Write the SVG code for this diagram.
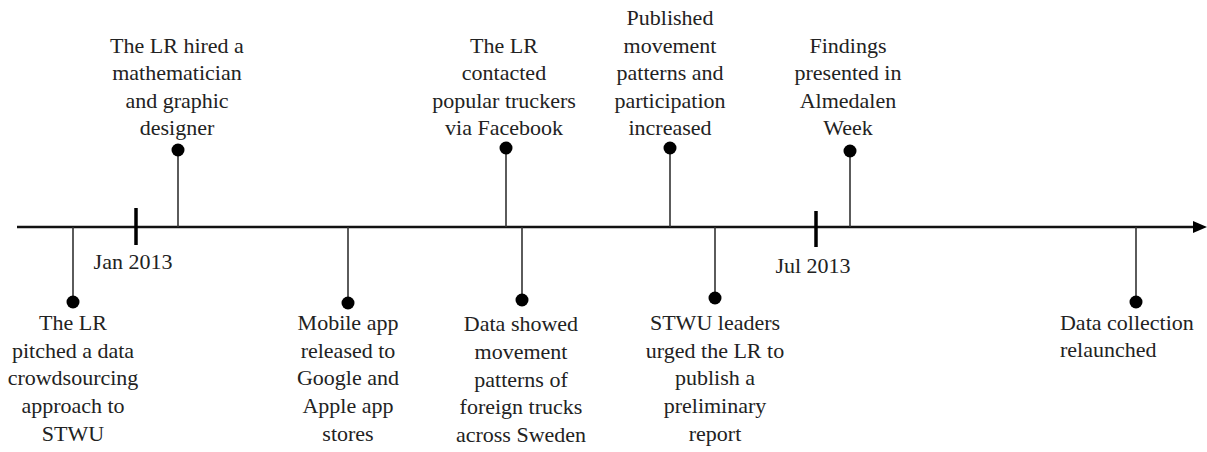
<svg xmlns="http://www.w3.org/2000/svg" width="1207" height="452" viewBox="0 0 1207 452">
<rect width="1207" height="452" fill="#fff"/>
<g id="axis">
<line x1="17" y1="227" x2="1195" y2="227" stroke="#111" stroke-width="2.5"/>
<polygon points="1193,221 1207,227 1193,233" fill="#000"/>
<line x1="136" y1="208" x2="136" y2="245" stroke="#000" stroke-width="3.5"/>
<line x1="816" y1="211" x2="816" y2="247" stroke="#000" stroke-width="3.5"/>
<g transform="scale(0.916667)" font-family="Liberation Serif" font-size="24" fill="#222" text-anchor="middle">
<text font-family="Liberation Serif" font-size="24" x="145.09" y="293.45">Jan 2013</text>
<text font-family="Liberation Serif" font-size="24" x="886.91" y="297.82">Jul 2013</text>
</g>
</g>
<g id="connectors" stroke="#333" stroke-width="1.6" fill="none">
<line x1="73" y1="227" x2="73" y2="302"/>
<line x1="178" y1="227" x2="178" y2="150"/>
<line x1="348" y1="227" x2="348" y2="303"/>
<line x1="506" y1="227" x2="506" y2="148"/>
<line x1="522" y1="227" x2="522" y2="300"/>
<line x1="670" y1="227" x2="670" y2="148"/>
<line x1="715" y1="227" x2="715" y2="298"/>
<line x1="850" y1="227" x2="850" y2="151"/>
<line x1="1136" y1="227" x2="1136" y2="302"/>
</g>
<g id="e1"><circle fill="#000" cx="73" cy="302" r="6.5"/>
<g transform="scale(0.916667)" fill="#222" text-anchor="middle">
<text font-family="Liberation Serif" font-size="24" x="79.64" y="360">The LR</text>
<text font-family="Liberation Serif" font-size="24" x="79.64" y="390.55">pitched a data</text>
<text font-family="Liberation Serif" font-size="24" x="79.64" y="420">crowdsourcing</text>
<text font-family="Liberation Serif" font-size="24" x="79.64" y="450.55">approach to</text>
<text font-family="Liberation Serif" font-size="24" x="79.64" y="481.09">STWU</text></g></g>
<g id="e2"><circle fill="#000" cx="178" cy="150" r="6.5"/>
<g transform="scale(0.916667)" fill="#222" text-anchor="middle">
<text font-family="Liberation Serif" font-size="24" x="193.09" y="57.82">The LR hired a</text>
<text font-family="Liberation Serif" font-size="24" x="193.09" y="87.27">mathematician</text>
<text font-family="Liberation Serif" font-size="24" x="193.09" y="117.82">and graphic</text>
<text font-family="Liberation Serif" font-size="24" x="193.09" y="147.27">designer</text></g></g>
<g id="e3"><circle fill="#000" cx="348" cy="303" r="6.5"/>
<g transform="scale(0.916667)" fill="#222" text-anchor="middle">
<text font-family="Liberation Serif" font-size="24" x="379.64" y="360">Mobile app</text>
<text font-family="Liberation Serif" font-size="24" x="379.64" y="390.55">released to</text>
<text font-family="Liberation Serif" font-size="24" x="379.64" y="420">Google and</text>
<text font-family="Liberation Serif" font-size="24" x="379.64" y="450.55">Apple app</text>
<text font-family="Liberation Serif" font-size="24" x="379.64" y="481.09">stores</text></g></g>
<g id="e4"><circle fill="#000" cx="506" cy="148" r="6.5"/>
<g transform="scale(0.916667)" fill="#222" text-anchor="middle">
<text font-family="Liberation Serif" font-size="24" x="549.82" y="57.82">The LR</text>
<text font-family="Liberation Serif" font-size="24" x="549.82" y="87.27">contacted</text>
<text font-family="Liberation Serif" font-size="24" x="549.82" y="117.82">popular truckers</text>
<text font-family="Liberation Serif" font-size="24" x="549.82" y="147.27">via Facebook</text></g></g>
<g id="e5"><circle fill="#000" cx="522" cy="300" r="6.5"/>
<g transform="scale(0.916667)" fill="#222" text-anchor="middle">
<text font-family="Liberation Serif" font-size="24" x="568.36" y="361.09">Data showed</text>
<text font-family="Liberation Serif" font-size="24" x="568.36" y="391.64">movement</text>
<text font-family="Liberation Serif" font-size="24" x="568.36" y="422.18">patterns of</text>
<text font-family="Liberation Serif" font-size="24" x="568.36" y="451.64">foreign trucks</text>
<text font-family="Liberation Serif" font-size="24" x="568.36" y="482.18">across Sweden</text></g></g>
<g id="e6"><circle fill="#000" cx="670" cy="148" r="6.5"/>
<g transform="scale(0.916667)" fill="#222" text-anchor="middle">
<text font-family="Liberation Serif" font-size="24" x="730.91" y="27.27">Published</text>
<text font-family="Liberation Serif" font-size="24" x="730.91" y="57.82">movement</text>
<text font-family="Liberation Serif" font-size="24" x="730.91" y="87.27">patterns and</text>
<text font-family="Liberation Serif" font-size="24" x="730.91" y="117.82">participation</text>
<text font-family="Liberation Serif" font-size="24" x="730.91" y="147.27">increased</text></g></g>
<g id="e7"><circle fill="#000" cx="715" cy="298" r="6.5"/>
<g transform="scale(0.916667)" fill="#222" text-anchor="middle">
<text font-family="Liberation Serif" font-size="24" x="780" y="360">STWU leaders</text>
<text font-family="Liberation Serif" font-size="24" x="780" y="390.55">urged the LR to</text>
<text font-family="Liberation Serif" font-size="24" x="780" y="420">publish a</text>
<text font-family="Liberation Serif" font-size="24" x="780" y="450.55">preliminary</text>
<text font-family="Liberation Serif" font-size="24" x="780" y="481.09">report</text></g></g>
<g id="e8"><circle fill="#000" cx="850" cy="151" r="6.5"/>
<g transform="scale(0.916667)" fill="#222" text-anchor="middle">
<text font-family="Liberation Serif" font-size="24" x="925.09" y="57.82">Findings</text>
<text font-family="Liberation Serif" font-size="24" x="925.09" y="87.27">presented in</text>
<text font-family="Liberation Serif" font-size="24" x="925.09" y="117.82">Almedalen</text>
<text font-family="Liberation Serif" font-size="24" x="925.09" y="147.27">Week</text></g></g>
<g id="e9"><circle fill="#000" cx="1136" cy="302" r="6.5"/>
<g transform="scale(0.916667)" fill="#222">
<text font-family="Liberation Serif" font-size="24" x="1156.36" y="360">Data collection</text>
<text font-family="Liberation Serif" font-size="24" x="1156.36" y="389.45">relaunched</text></g></g>
</svg>
